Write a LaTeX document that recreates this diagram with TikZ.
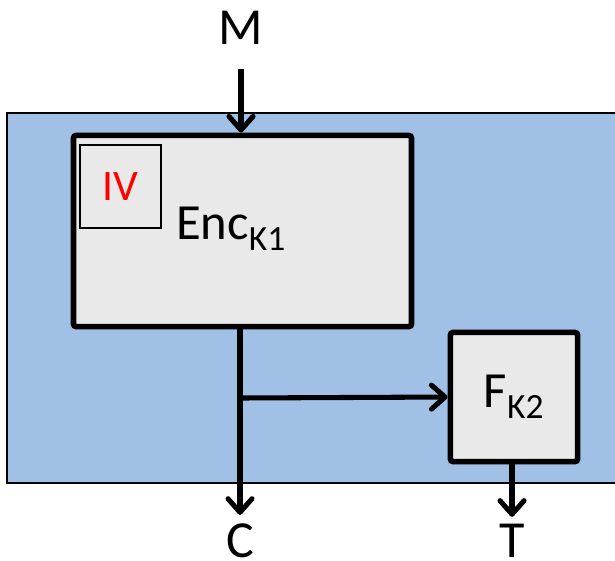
\documentclass[tikz,border=0pt]{standalone}
\usepackage{fontspec}
\setmainfont{Carlito}
\usepackage{xcolor}
\usepackage{tikz}
\usetikzlibrary{arrows.meta,positioning,calc}
\definecolor{zoneblue}{RGB}{160,192,230}
\definecolor{boxgrey}{RGB}{233,233,233}
\definecolor{ivred}{RGB}{255,0,0}

\begin{document}
\begin{tikzpicture}[x=0.025cm, y=-0.025cm,
  box/.style={rectangle, rounded corners=2pt, draw=black, fill=boxgrey, line width=4pt,
    inner sep=0pt, font=\fontsize{36}{40}\selectfont},
  ivbox/.style={rectangle, draw=black, line width=1.5pt, inner sep=0pt,
    minimum width=2.03cm, minimum height=2.08cm, text=ivred, font=\fontsize{31}{36}\selectfont},
  lbl/.style={inner sep=0pt, font=\fontsize{37}{40}\selectfont},
  arr/.style={-{Straight Barb[length=3.4mm, width=6mm, round]}, black, line width=3.6pt}]
\useasboundingbox (0,0) rectangle (615,560);
% background zone
\filldraw[fill=zoneblue, draw=black, line width=1pt] (7,113) rectangle (625,483);
% blocks
\node[box, minimum width=8.45cm, minimum height=4.78cm] (enc) at (242.5,231) {};
\node[lbl, font=\fontsize{36}{40}\selectfont] (enctxt) at (231,229) {Enc\textsubscript{K1}};
\node[ivbox] (iv) at (120.5,186.5) {IV};
\node[box, minimum width=3.18cm, minimum height=3.23cm] (f) at (514,397) {F\textsubscript{K2}};
% inputs / outputs
\node[lbl] (m) at (241,28) {M};
\node[lbl] (c) at (240,541) {C};
\node[lbl] (t) at (512,541) {T};
\coordinate (split) at (240,398);
\draw[arr, shorten <=6mm] (m.south) -- (m.south |- enc.north);
\draw[arr] (enc.south -| c) -- ([yshift=2.2mm]c.north);
\draw[arr] (split) -- (f.west);
\draw[arr] (f.south -| t) -- ([yshift=1.8mm]t.north);
\end{tikzpicture}
\end{document}
